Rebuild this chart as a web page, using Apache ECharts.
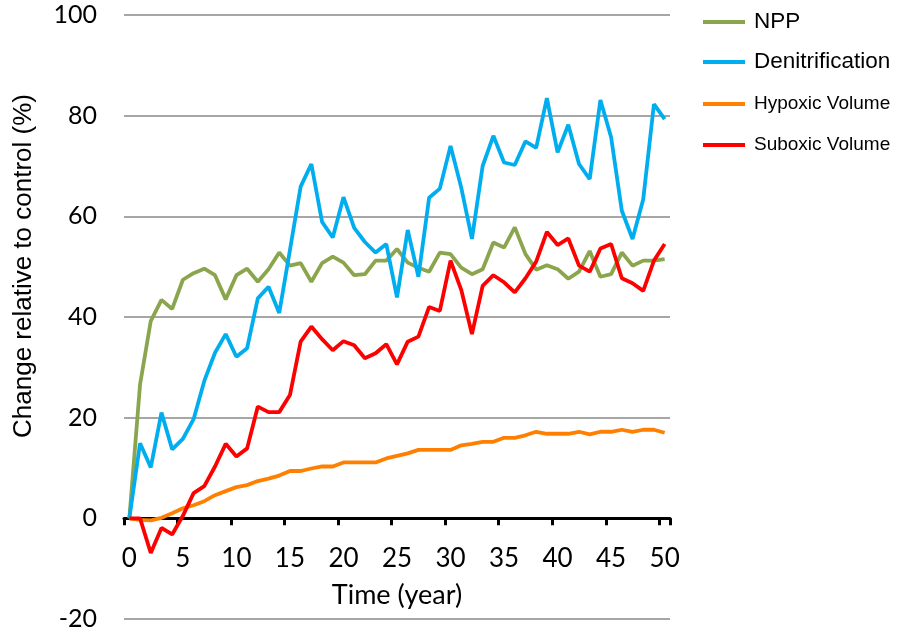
<!DOCTYPE html>
<html>
<head>
<meta charset="utf-8">
<script src="https://cdn.jsdelivr.net/npm/echarts@6/dist/echarts.min.js"></script>
<style>
html,body{margin:0;padding:0;background:#fff;}
#chart{width:898px;height:633px;}
</style>
</head>
<body>
<div id="chart"></div>
<script>
var years = [0,1,2,3,4,5,6,7,8,9,10,11,12,13,14,15,16,17,18,19,20,21,22,23,24,25,26,27,28,29,30,31,32,33,34,35,36,37,38,39,40,41,42,43,44,45,46,47,48,49,50];
var yTicks = [-20,0,20,40,60,80,100];
var npp = [0,26.6,39.2,43.4,41.6,47.4,48.7,49.6,48.3,43.5,48.3,49.6,47.0,49.5,52.8,50.2,50.7,47.0,50.7,52.0,50.8,48.3,48.5,51.2,51.2,53.5,50.8,49.8,49.0,52.8,52.5,49.8,48.5,49.5,54.8,53.8,57.8,52.5,49.4,50.3,49.5,47.6,49.0,53.1,48.0,48.5,52.8,50.2,51.2,51.2,51.5];
var denitrification = [0,14.9,10.1,21.0,13.7,15.8,19.7,27.3,32.9,36.6,32.1,33.8,43.7,46.0,40.8,53.3,65.9,70.4,58.9,55.8,63.8,57.7,54.9,52.8,54.5,43.9,57.3,48.0,63.7,65.5,74.0,65.7,55.5,70.0,76.0,70.7,70.2,74.9,73.6,83.5,72.7,78.2,70.4,67.4,83.1,75.7,61.1,55.5,63.4,82.3,79.3];
var hypoxic = [0,-0.3,-0.4,0.1,1.0,2.0,2.6,3.4,4.6,5.4,6.2,6.6,7.4,7.9,8.5,9.4,9.4,9.9,10.3,10.3,11.1,11.1,11.1,11.1,11.9,12.4,12.9,13.6,13.6,13.6,13.6,14.5,14.8,15.2,15.2,16.0,16.0,16.5,17.2,16.8,16.8,16.8,17.2,16.7,17.2,17.2,17.6,17.2,17.6,17.6,17.0];
var suboxic = [0,0,-6.9,-1.9,-3.2,0.5,5.0,6.4,10.3,14.8,12.3,13.9,22.2,21.1,21.1,24.5,35.1,38.1,35.6,33.4,35.2,34.4,31.8,32.8,34.6,30.6,35.1,36.1,42.0,41.2,51.2,45.4,36.6,46.2,48.3,46.9,44.9,47.7,51.0,56.9,54.3,55.6,50.2,49.0,53.6,54.5,47.7,46.7,45.2,51.2,54.5];

var seriesNames = ['NPP','Denitrification','Hypoxic Volume','Suboxic Volume'];
var seriesColors = ['#8BA54F','#00AEEF','#FF8000','#FF0000'];
var seriesData = [npp, denitrification, hypoxic, suboxic];
var legendFontSizes = [22.5, 22.5, 19, 19];
var legendTops = [9, 49, 91, 132];

var chart = echarts.init(document.getElementById('chart'));

var legends = seriesNames.map(function(n, i){
  return {
    data:[n], orient:'vertical', left:703, top:legendTops[i], padding:0,
    icon:'rect', itemWidth:42, itemHeight:4, selectedMode:false,
    textStyle:{fontFamily:'Liberation Sans', fontSize:legendFontSizes[i], lineHeight:26, color:'#000', padding:[0,0,0,4]}
  };
});

var series = seriesNames.map(function(n, i){
  return {
    name:n, type:'line', data:seriesData[i], symbol:'none', smooth:false,
    lineStyle:{color:seriesColors[i], width:3.8},
    itemStyle:{color:seriesColors[i]},
    z:2+i, animation:false
  };
});

chart.setOption({
  animation:false,
  backgroundColor:'#fff',
  grid:{left:124, right:228, top:15, bottom:14, containLabel:false},
  legend:legends,
  xAxis:{
    type:'category', data:years, boundaryGap:true, position:'bottom', offset:-100.7,
    axisLine:{onZero:false, lineStyle:{color:'#000', width:3}},
    axisTick:{show:true, interval:4, length:7, lineStyle:{color:'#000', width:3}},
    axisLabel:{show:true, interval:4, fontFamily:'Lato', fontSize:26, color:'#000', margin:27, hideOverlap:false},
    splitLine:{show:false},
    name:'Time (year)', nameLocation:'middle', nameGap:63,
    nameTextStyle:{fontFamily:'Lato', fontSize:27, color:'#000'}
  },
  yAxis:{
    type:'value', min:yTicks[0], max:yTicks[yTicks.length-1], interval:20,
    axisLine:{show:false}, axisTick:{show:false},
    splitLine:{lineStyle:{color:'#A6A6A6', width:2}},
    axisLabel:{fontFamily:'Lato', fontSize:25, color:'#000', margin:27, padding:[5,0,0,0]}
  },
  graphic:[{
    type:'text', x:24, y:266, rotation:Math.PI/2,
    style:{text:'Change relative to control (%)', fontFamily:'Liberation Sans', fontSize:26, fill:'#000', align:'center', verticalAlign:'middle'}
  }],
  series:series
});
</script>
</body>
</html>
